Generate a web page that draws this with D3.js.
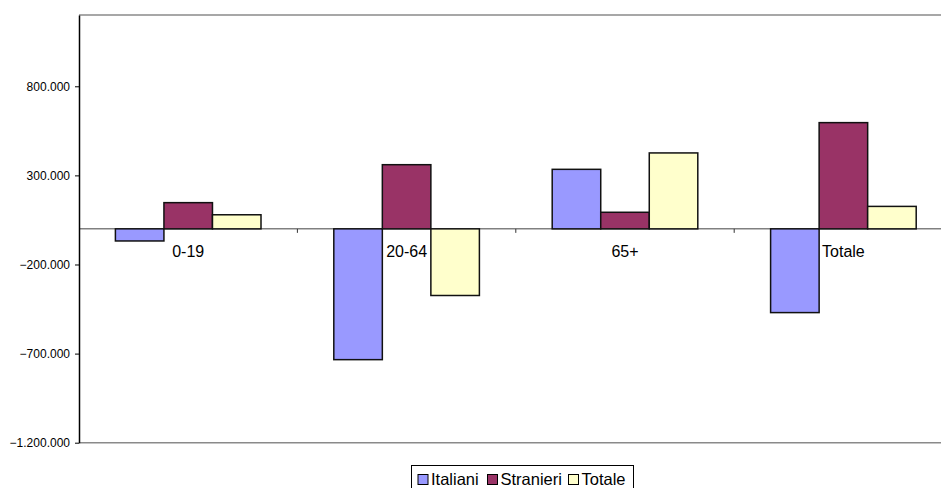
<!DOCTYPE html>
<html>
<head>
<meta charset="utf-8">
<script src="https://cdn.jsdelivr.net/npm/d3@7"></script>
<style>
  html, body { margin: 0; padding: 0; background: #fff; }
  svg { display: block; font-family: Arial, "Liberation Sans", sans-serif; }
</style>
</head>
<body>
<svg id="chart" width="941" height="488"></svg>
<script>
// Age groups and the change for each population group
const categories = ["0-19", "20-64", "65+", "Totale"];
const seriesNames = ["Italiani", "Stranieri", "Totale"];
const italiani  = [-68000, -734000, 334000, -470000];
const stranieri = [147000, 360000, 93000, 596000];
const totale    = [79000, -374000, 426000, 126000];
const yTicks = [-1200000, -700000, -200000, 300000, 800000];
const yDomain = [-1200000, 1200000];

const colors = ["#9999FF", "#993366", "#FFFFCC"];
const seriesValues = [italiani, stranieri, totale];

const svg = d3.select("#chart");
const W = 941, H = 488;
const plot = { left: 79, right: 952.6, top: 15, bottom: 442.7 };

const locale = d3.formatLocale({ decimal: ",", thousands: ".", grouping: [3], currency: ["€", ""] });
const fmt = locale.format(",.0f");

const x0 = d3.scaleBand().domain(categories).range([plot.left, plot.right]).padding(0);
const x1 = d3.scaleBand().domain(seriesNames).range([0, x0.bandwidth()])
  .paddingInner(0).paddingOuter(0.75);
const y = d3.scaleLinear().domain(yDomain).range([plot.bottom, plot.top]);

// Plot frame: top and bottom grey lines
svg.append("line").attr("x1", plot.left).attr("x2", W).attr("y1", plot.top).attr("y2", plot.top)
  .attr("stroke", "#8a8a8a").attr("stroke-width", 1.5);
svg.append("line").attr("x1", plot.left).attr("x2", W).attr("y1", plot.bottom).attr("y2", plot.bottom)
  .attr("stroke", "#8a8a8a").attr("stroke-width", 1.5);

// Zero line
svg.append("line").attr("x1", plot.left).attr("x2", W).attr("y1", y(0)).attr("y2", y(0))
  .attr("stroke", "#808080").attr("stroke-width", 1.5);

// Category tick marks on the zero line
const bounds = categories.slice(1).map(c => x0(c));
svg.selectAll("line.ctick").data(bounds).join("line")
  .attr("class", "ctick")
  .attr("x1", d => d).attr("x2", d => d)
  .attr("y1", y(0)).attr("y2", y(0) + 4)
  .attr("stroke", "#333").attr("stroke-width", 1);

// Bars
const rows = categories.map((c, i) => ({ cat: c, vals: seriesNames.map((s, j) => ({ s, j, v: seriesValues[j][i] })) }));
const g = svg.selectAll("g.grp").data(rows).join("g")
  .attr("class", "grp")
  .attr("transform", d => `translate(${x0(d.cat)},0)`);
g.selectAll("rect").data(d => d.vals).join("rect")
  .attr("x", d => x1(d.s))
  .attr("width", x1.bandwidth())
  .attr("y", d => y(Math.max(0, d.v)))
  .attr("height", d => Math.abs(y(d.v) - y(0)))
  .attr("fill", d => colors[d.j])
  .attr("stroke", "#111")
  .attr("stroke-width", 1.5);

// Category labels just below the zero line
svg.selectAll("text.cat").data(categories).join("text")
  .attr("class", "cat")
  .attr("x", d => x0(d) + x0.bandwidth() / 2)
  .attr("y", y(0) + 28.5)
  .attr("text-anchor", "middle")
  .attr("font-size", "16px")
  .attr("fill", "#000")
  .text(d => d);

// Y axis
const yAxis = d3.axisLeft(y).tickValues(yTicks).tickFormat(fmt).tickSize(4).tickSizeOuter(0);
const ya = svg.append("g").attr("transform", `translate(${plot.left},0)`).call(yAxis);
ya.select(".domain").attr("stroke", "#000").attr("stroke-width", 1.5);
ya.selectAll(".tick line").attr("stroke", "#000").attr("stroke-width", 1);
ya.selectAll(".tick text").attr("font-size", "12px").attr("font-family", "Arial, 'Liberation Sans', sans-serif")
  .attr("fill", "#000").attr("x", -9);

// Legend
const legend = svg.append("g");
legend.append("rect").attr("x", 411.5).attr("y", 465.5).attr("width", 222).attr("height", 30)
  .attr("fill", "#fff").attr("stroke", "#000").attr("stroke-width", 1);
const legendX = [418, 487.5, 568.5];
const li = legend.selectAll("g.item").data(seriesNames).join("g").attr("class", "item")
  .attr("transform", (d, i) => `translate(${legendX[i]},0)`);
li.append("rect").attr("x", 0).attr("y", 474.5).attr("width", 10).attr("height", 10)
  .attr("fill", (d, i) => colors[i]).attr("stroke", "#000").attr("stroke-width", 1);
li.append("text").attr("x", 13).attr("y", 485).attr("font-size", "16.5px").attr("fill", "#000")
  .text(d => d);
</script>
</body>
</html>
